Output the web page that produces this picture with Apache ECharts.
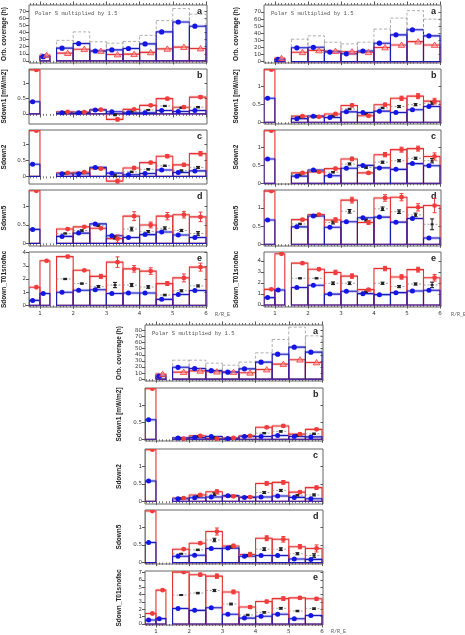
<!DOCTYPE html>
<html><head><meta charset="utf-8">
<script src="https://cdn.jsdelivr.net/npm/echarts@6/dist/echarts.min.js"></script>
<style>html,body{margin:0;padding:0;background:#fff}#c{width:465px;height:635px}</style>
</head><body><div id="c"></div>
<script>
// ---- bins (R/R_E) ----
const binLo = [0.67, 1.0, 1.5, 2.0, 2.5, 3.0, 3.5, 4.0, 4.5, 5.0, 5.5];
const binHi = [1.0, 1.3, 2.0, 2.5, 3.0, 3.5, 4.0, 4.5, 5.0, 5.5, 6.0];
const xTickValues = [1, 2, 3, 4, 5, 6];
const covTicks70 = [0, 10, 20, 30, 40, 50, 60, 70];
const covTicks80 = [0, 10, 20, 30, 40, 50, 60, 70, 80];
const sdTicks = [0, 0.5, 1];
const tTicks4 = [0, 1, 2, 3, 4];
const tTicks7 = [0, 1, 2, 3, 4, 5, 6, 7];

// ---- Panel 1 (top left) ----
const p1aBlue  = [null, 6, 18, 24.5, 14, 15.5, 17.5, 24, 41, 55, 49];
const p1aRed   = [null, 8, 11, 16.5, 14, 9, 9.5, 12, 17, 19.5, 17.5];
const p1aTotal = [null, 10, 29, 41, 27, 25, 27.5, 36, 57, 74, 66];
const p1bBlue = [0.40, null, 0.04, 0.04, 0.13, 0.07, 0.04, 0.04, 0.11, 0.08, 0.11];
const p1bRed  = [1.44, null, 0.07, 0.06, 0.14, -0.18, 0.15, 0.28, 0.50, 0.22, 0.55];
const p1bMean = [null, null, 0.05, 0.05, 0.13, -0.03, 0.08, 0.13, 0.26, 0.20, 0.22];
const p1bRedErr  = [0, null, 0.01, 0.01, 0.02, 0.05, 0.02, 0.03, 0.04, 0.04, 0.05];
const p1bMeanErr = [null, null, 0.01, 0.01, 0.01, 0.03, 0.01, 0.01, 0.02, 0.02, 0.02];
const p1cBlue = [0.38, null, 0.08, 0.08, 0.28, 0.10, 0.05, 0.09, 0.20, 0.12, 0.17];
const p1cRed  = [1.43, null, 0.11, 0.13, 0.24, -0.15, 0.26, 0.43, 0.63, 0.36, 0.71];
const p1cMean = [null, null, 0.09, 0.10, 0.26, 0.02, 0.14, 0.22, 0.33, 0.18, 0.28];
const p1cRedErr  = [0, null, 0.01, 0.02, 0.02, 0.06, 0.04, 0.04, 0.05, 0.05, 0.07];
const p1cMeanErr = [null, null, 0.01, 0.01, 0.01, 0.03, 0.02, 0.02, 0.02, 0.02, 0.03];
const p1dBlue = [0.38, null, 0.19, 0.28, 0.53, 0.21, 0.16, 0.24, 0.31, 0.23, 0.16];
const p1dRed  = [1.43, null, 0.39, 0.45, 0.41, 0.13, 0.74, 0.50, 0.74, 0.78, 0.72];
const p1dMean = [null, null, 0.27, 0.35, 0.48, 0.16, 0.39, 0.32, 0.41, 0.35, 0.27];
const p1dRedErr  = [0, null, 0.02, 0.02, 0.03, 0.10, 0.12, 0.08, 0.10, 0.09, 0.13];
const p1dMeanErr = [null, null, 0.01, 0.02, 0.02, 0.04, 0.05, 0.03, 0.04, 0.03, 0.05];
const p1eBlue = [0.37, 0.90, 0.99, 1.14, 1.18, 0.90, 0.93, 0.93, 0.45, 0.82, 1.12];
const p1eRed  = [1.37, 3.38, 3.70, 2.66, 2.20, 3.28, 2.77, 2.60, 1.65, 2.08, 2.90];
const p1eMean = [null, null, 2.00, 1.65, 1.42, 1.54, 1.54, 1.39, 0.78, 1.10, 1.47];
const p1eRedErr  = [0.03, 0.03, 0.10, 0.06, 0.15, 0.40, 0.25, 0.25, 0.15, 0.30, 0.30];
const p1eMeanErr = [null, null, 0.05, 0.04, 0.08, 0.20, 0.12, 0.10, 0.06, 0.08, 0.08];

// ---- Panel 2 (top right) ----
const p2aBlue  = [null, 3, 19.5, 20.2, 13.5, 11, 15, 26, 37.8, 45, 36.4];
const p2aRed   = [null, 4.7, 13.2, 15.8, 14.8, 14, 13.2, 20, 23.5, 28.2, 23.5];
const p2aTotal = [null, 6, 31.7, 36.4, 27.4, 25, 27.4, 46, 61.5, 72, 60];
const p2bBlue = [0.67, null, 0.10, 0.17, 0.13, 0.29, 0.27, 0.31, 0.27, 0.35, 0.44];
const p2bRed  = [1.47, null, 0.17, 0.15, 0.23, 0.47, 0.18, 0.49, 0.67, 0.73, 0.59];
const p2bMean = [null, null, 0.14, 0.16, 0.18, 0.37, 0.23, 0.40, 0.44, 0.49, 0.53];
const p2bRedErr  = [0, null, 0.02, 0.02, 0.02, 0.04, 0.03, 0.04, 0.06, 0.07, 0.08];
const p2bMeanErr = [null, null, 0.01, 0.01, 0.01, 0.02, 0.01, 0.02, 0.03, 0.03, 0.04];
const p2cBlue = [0.68, null, 0.20, 0.37, 0.21, 0.42, 0.50, 0.43, 0.39, 0.55, 0.49];
const p2cRed  = [1.47, null, 0.29, 0.32, 0.41, 0.68, 0.29, 0.80, 0.94, 0.97, 0.75];
const p2cMean = [null, null, 0.24, 0.34, 0.31, 0.54, 0.44, 0.59, 0.63, 0.70, 0.63];
const p2cRedErr  = [0, null, 0.02, 0.02, 0.04, 0.05, 0.03, 0.06, 0.07, 0.07, 0.10];
const p2cMeanErr = [null, null, 0.01, 0.01, 0.02, 0.03, 0.02, 0.03, 0.03, 0.03, 0.06];
const p2dBlue = [0.67, null, 0.48, 0.78, 0.47, 0.62, 0.73, 0.75, 0.61, 0.71, 0.17];
const p2dRed  = [1.47, null, 0.68, 0.82, 0.67, 1.22, 0.60, 1.28, 1.30, 1.02, 1.07];
const p2dMean = [null, null, 0.56, 0.80, 0.60, 0.91, 0.67, 0.98, 0.90, 0.81, 0.55];
const p2dRedErr  = [0, null, 0.03, 0.03, 0.06, 0.08, 0.05, 0.09, 0.10, 0.10, 0.20];
const p2dMeanErr = [null, null, 0.02, 0.02, 0.04, 0.05, 0.03, 0.05, 0.05, 0.05, 0.15];
const p2eBlue = [0.67, 1.36, 1.58, 1.79, 0.99, 1.24, 1.03, 0.94, 1.12, 1.27, 1.33];
const p2eRed  = [1.42, 4.64, 3.79, 3.24, 2.95, 2.62, 1.39, 3.30, 2.54, 3.20, 2.47];
const p2eMean = [null, null, 2.42, 2.42, 1.97, 1.97, 1.20, 1.97, 1.67, 1.90, 1.82];
const p2eRedErr  = [0.04, 0.05, 0.08, 0.08, 0.20, 0.20, 0.10, 0.20, 0.20, 0.22, 0.30];
const p2eMeanErr = [null, null, 0.04, 0.04, 0.12, 0.12, 0.05, 0.10, 0.10, 0.10, 0.25];

// ---- Panel 3 (bottom centre) ----
const p3aBlue  = [null, 5, 19.5, 17.5, 14, 11.5, 17, 28, 41, 52.6, 44.4];
const p3aRed   = [null, 8.2, 11.5, 13.7, 12.3, 11.5, 10.5, 15.9, 24.7, 32, 27.4];
const p3aTotal = [null, 9.9, 31.2, 31.2, 26.3, 23, 28, 43.3, 65.2, 85.5, 71.2];
const p3bBlue = [0.57, null, 0.04, 0.05, 0.08, 0.02, 0.08, 0.08, 0.11, 0.08, 0.07];
const p3bRed  = [1.48, null, 0.02, 0.10, 0.02, 0.04, 0.10, 0.35, 0.39, 0.15, 0.29];
const p3bMean = [null, null, 0.03, 0.08, 0.05, 0.03, 0.09, 0.18, 0.23, 0.12, 0.16];
const p3bRedErr  = [0, null, 0.01, 0.02, 0.03, 0.02, 0.02, 0.03, 0.03, 0.03, 0.03];
const p3bMeanErr = [null, null, 0.01, 0.01, 0.01, 0.01, 0.01, 0.02, 0.02, 0.02, 0.02];
const p3cBlue = [0.58, null, 0.07, 0.10, 0.12, 0.16, 0.11, 0.12, 0.15, 0.11, 0.07];
const p3cRed  = [1.48, null, 0.09, 0.18, 0.27, 0.14, 0.12, 0.51, 0.54, 0.26, 0.39];
const p3cMean = [null, null, 0.08, 0.14, 0.20, 0.15, 0.12, 0.25, 0.31, 0.17, 0.18];
const p3cRedErr  = [0, null, 0.01, 0.02, 0.06, 0.03, 0.02, 0.05, 0.05, 0.04, 0.05];
const p3cMeanErr = [null, null, 0.01, 0.01, 0.04, 0.02, 0.01, 0.03, 0.03, 0.02, 0.03];
const p3dBlue = [0.57, null, 0.18, 0.21, 0.40, 0.41, 0.18, 0.20, 0.20, 0.10, 0.09];
const p3dRed  = [1.46, null, 0.38, 0.55, 0.88, 0.47, 0.23, 0.69, 0.66, 0.45, 0.40];
const p3dMean = [null, null, 0.25, 0.36, 0.64, 0.44, 0.20, 0.38, 0.38, 0.25, 0.20];
const p3dRedErr  = [0, null, 0.02, 0.03, 0.10, 0.05, 0.06, 0.07, 0.08, 0.06, 0.10];
const p3dMeanErr = [null, null, 0.01, 0.02, 0.05, 0.03, 0.03, 0.04, 0.04, 0.03, 0.05];
const p3eBlue = [0.54, 0.72, 2.10, 1.85, 2.20, 1.32, 0.80, 1.05, 1.33, 0.70, 1.15];
const p3eRed  = [1.42, 4.60, 7.05, 6.70, 6.50, 4.35, 2.30, 3.05, 3.45, 3.55, 3.42];
const p3eMean = [null, null, 3.93, 4.20, 4.55, 2.71, 1.22, 1.58, 2.13, 1.76, 2.08];
const p3eRedErr  = [0.05, 0.05, 0.10, 0.20, 0.30, 0.25, 0.20, 0.20, 0.25, 0.20, 0.20];
const p3eMeanErr = [null, null, 0.05, 0.10, 0.15, 0.12, 0.10, 0.10, 0.12, 0.10, 0.10];

const yNames = ['Orb. coverage (h)', 'Sdown1 [mW/m2]', 'Sdown2', 'Sdown5', 'Sdown_T01snofac'];
const letters = ['a', 'b', 'c', 'd', 'e'];

// ---- layout ----
const panels = [
  { left: 28, width: 179, nameGap: 21, rows: [[5,58],[69,55],[130,54],[190,56],[252,55]],
    yRange: [[-3,79],[-0.33,1.47],[-0.24,1.45],[-0.07,1.45],[-0.13,4.05]],
    subs: [
      {kind:'a', blue:p1aBlue, red:p1aRed, total:p1aTotal, ticks:covTicks70},
      {kind:'s', blue:p1bBlue, red:p1bRed, mean:p1bMean, rErr:p1bRedErr, mErr:p1bMeanErr, ticks:sdTicks},
      {kind:'s', blue:p1cBlue, red:p1cRed, mean:p1cMean, rErr:p1cRedErr, mErr:p1cMeanErr, ticks:sdTicks},
      {kind:'s', blue:p1dBlue, red:p1dRed, mean:p1dMean, rErr:p1dRedErr, mErr:p1dMeanErr, ticks:sdTicks},
      {kind:'s', blue:p1eBlue, red:p1eRed, mean:p1eMean, rErr:p1eRedErr, mErr:p1eMeanErr, ticks:tTicks4}
    ], rre: [215, 315] },
  { left: 264, width: 177, nameGap: 24, rows: [[5,58],[69,55],[130,54],[190,56],[252,55]],
    yRange: [[-2,80],[-0.05,1.49],[-0.02,1.49],[-0.05,1.5],[-0.18,4.8]],
    subs: [
      {kind:'a', blue:p2aBlue, red:p2aRed, total:p2aTotal, ticks:covTicks70},
      {kind:'s', blue:p2bBlue, red:p2bRed, mean:p2bMean, rErr:p2bRedErr, mErr:p2bMeanErr, ticks:sdTicks},
      {kind:'s', blue:p2cBlue, red:p2cRed, mean:p2cMean, rErr:p2cRedErr, mErr:p2cMeanErr, ticks:sdTicks},
      {kind:'s', blue:p2dBlue, red:p2dRed, mean:p2dMean, rErr:p2dRedErr, mErr:p2dMeanErr, ticks:sdTicks},
      {kind:'s', blue:p2eBlue, red:p2eRed, mean:p2eMean, rErr:p2eRedErr, mErr:p2eMeanErr, ticks:tTicks4}
    ], rre: [451, 315] },
  { left: 145, width: 178, nameGap: 22, rows: [[325,56],[388,53],[449,55],[510,54],[571,54]],
    yRange: [[-3,89],[-0.05,1.5],[-0.08,1.5],[-0.04,1.49],[-0.14,7.2]],
    subs: [
      {kind:'a', blue:p3aBlue, red:p3aRed, total:p3aTotal, ticks:covTicks80},
      {kind:'s', blue:p3bBlue, red:p3bRed, mean:p3bMean, rErr:p3bRedErr, mErr:p3bMeanErr, ticks:sdTicks},
      {kind:'s', blue:p3cBlue, red:p3cRed, mean:p3cMean, rErr:p3cRedErr, mErr:p3cMeanErr, ticks:sdTicks},
      {kind:'s', blue:p3dBlue, red:p3dRed, mean:p3dMean, rErr:p3dRedErr, mErr:p3dMeanErr, ticks:sdTicks},
      {kind:'s', blue:p3eBlue, red:p3eRed, mean:p3eMean, rErr:p3eRedErr, mErr:p3eMeanErr, ticks:tTicks7}
    ], rre: [331, 632] }
];

const XMIN = 0.67, XMAX = 6.03;
const minorTicks = [];
for (let k = 7; k <= 60; k++) minorTicks.push(k / 10);

const BLUE = '#1c1cb4', BLUEDOT = '#1414e6', RED = '#e23232', REDM = '#f03c3c', GRAY = '#9a9a9a';

function makeRender(sub) {
  return function (params, api) {
    const i = params.dataIndex;
    const lo = api.value(0), hi = api.value(1), w = hi - lo;
    const ch = [];
    const P = (x, y) => api.coord([x, y]);
    const box = (v, style) => {
      const a = P(lo, 0), b = P(hi, v);
      ch.push({ type: 'rect', shape: { x: a[0], y: Math.min(a[1], b[1]), width: b[0] - a[0], height: Math.abs(b[1] - a[1]) }, style: style });
    };
    const band = (v, fill) => {
      const a = P(lo, v), b = P(hi, v);
      ch.push({ type: 'rect', shape: { x: a[0], y: a[1] - 1.5, width: b[0] - a[0], height: 3 }, style: { fill: fill } });
    };
    const errbar = (x, v, e, color) => {
      const t = P(x, v + e), b = P(x, v - e);
      ch.push({ type: 'line', shape: { x1: t[0], y1: t[1], x2: b[0], y2: b[1] }, style: { stroke: color, lineWidth: 1 } });
      ch.push({ type: 'line', shape: { x1: t[0] - 2, y1: t[1], x2: t[0] + 2, y2: t[1] }, style: { stroke: color, lineWidth: 1 } });
      ch.push({ type: 'line', shape: { x1: b[0] - 2, y1: b[1], x2: b[0] + 2, y2: b[1] }, style: { stroke: color, lineWidth: 1 } });
    };
    const blue = sub.blue[i], red = sub.red[i];
    if (sub.kind === 'a') {
      if (sub.total[i] != null) box(sub.total[i], { fill: 'none', stroke: GRAY, lineWidth: 0.8, lineDash: [3, 2] });
      if (red != null) { band(red, 'rgba(255,110,110,0.3)'); box(red, { fill: 'none', stroke: RED, lineWidth: 1.1 }); }
      if (blue != null) { band(blue, 'rgba(90,90,255,0.35)'); box(blue, { fill: 'none', stroke: BLUE, lineWidth: 1.1 }); }
      if (blue != null) { const c = P(lo + 0.33 * w, blue); ch.push({ type: 'circle', shape: { cx: c[0], cy: c[1], r: 2.6 }, style: { fill: BLUEDOT } }); }
      if (red != null) {
        const c = P(lo + 0.67 * w, red);
        ch.push({ type: 'polygon', shape: { points: [[c[0], c[1] - 3], [c[0] - 3.3, c[1] + 2.4], [c[0] + 3.3, c[1] + 2.4]] }, style: { fill: 'rgba(255,150,150,0.6)', stroke: REDM, lineWidth: 0.8 } });
      }
    } else {
      if (red != null) { band(red, 'rgba(255,110,110,0.3)'); box(red, { fill: 'none', stroke: RED, lineWidth: 1.1 }); }
      if (blue != null) { band(blue, 'rgba(90,90,255,0.35)'); box(blue, { fill: 'none', stroke: BLUE, lineWidth: 1.1 }); }
      const mean = sub.mean[i];
      if (mean != null) {
        const a = P(lo, mean), b = P(hi, mean);
        ch.push({ type: 'line', shape: { x1: a[0], y1: a[1], x2: b[0], y2: b[1] }, style: { stroke: '#8c8c8c', lineWidth: 0.8, lineDash: [2, 2] } });
        errbar(lo + 0.52 * w, mean, sub.mErr[i], '#111');
        const m = P(lo + 0.52 * w, mean);
        ch.push({ type: 'rect', shape: { x: m[0] - 1.5, y: m[1] - 1, width: 3, height: 2 }, style: { fill: '#222' } });
      }
      if (blue != null) { const c = P(lo + 0.33 * w, blue); ch.push({ type: 'circle', shape: { cx: c[0], cy: c[1], r: 2.5 }, style: { fill: BLUEDOT } }); }
      if (red != null) {
        if (sub.rErr[i]) errbar(lo + 0.67 * w, red, sub.rErr[i], REDM);
        const c = P(lo + 0.67 * w, red);
        ch.push({ type: 'circle', shape: { cx: c[0], cy: c[1], r: 2.4 }, style: { fill: REDM } });
      }
    }
    return { type: 'group', children: ch };
  };
}

const option = { animation: false, backgroundColor: '#fff', grid: [], xAxis: [], yAxis: [], series: [], graphic: [] };
const tickColor = '#555';
const fmt = v => String(v);

panels.forEach((pn, pi) => {
  pn.subs.forEach((sub, si) => {
    const gi = option.grid.length;
    const [top, h] = pn.rows[si];
    option.grid.push({ left: pn.left, top: top, width: pn.width, height: h, show: true, borderColor: '#666', borderWidth: 1, backgroundColor: 'transparent' });
    const isE = si === 4;
    const xi = option.xAxis.length;
    option.xAxis.push({ type: 'value', gridIndex: gi, min: XMIN, max: XMAX, position: 'bottom',
      axisLine: { show: false }, splitLine: { show: false },
      axisTick: { show: true, customValues: xTickValues, length: 3.5, lineStyle: { color: tickColor, width: 1 } },
      axisLabel: { show: isE, customValues: xTickValues, fontSize: 5.5, margin: 4, color: '#333', fontFamily: 'DejaVu Sans', formatter: fmt } });
    option.xAxis.push({ type: 'value', gridIndex: gi, min: XMIN, max: XMAX, position: 'bottom',
      axisLine: { show: false }, splitLine: { show: false },
      axisTick: { show: true, customValues: minorTicks, length: 2, lineStyle: { color: tickColor, width: 0.8 } },
      axisLabel: { show: false } });
    if (si === 0) {
      option.xAxis.push({ type: 'value', gridIndex: gi, min: XMIN, max: XMAX, position: 'top',
        axisLine: { show: false }, splitLine: { show: false },
        axisTick: { show: true, customValues: xTickValues, length: 3.5, lineStyle: { color: tickColor, width: 1 } },
        axisLabel: { show: false } });
      option.xAxis.push({ type: 'value', gridIndex: gi, min: XMIN, max: XMAX, position: 'top',
        axisLine: { show: false }, splitLine: { show: false },
        axisTick: { show: true, customValues: minorTicks, length: 2, lineStyle: { color: tickColor, width: 0.8 } },
        axisLabel: { show: false } });
    }
    const yi = option.yAxis.length;
    const [ymin, ymax] = pn.yRange[si];
    option.yAxis.push({ type: 'value', gridIndex: gi, min: ymin, max: ymax, position: 'left',
      axisLine: { show: false }, splitLine: { show: false },
      axisTick: { show: true, customValues: sub.ticks, length: 3, lineStyle: { color: tickColor } },
      axisLabel: { customValues: sub.ticks, fontSize: 5.5, margin: 3, color: '#333', fontFamily: 'DejaVu Sans', formatter: fmt },
      name: yNames[si], nameLocation: 'middle', nameGap: pn.nameGap, nameRotate: 90,
      nameTextStyle: { fontSize: 6.5, fontWeight: 'bold', color: '#222', fontFamily: 'Liberation Sans' } });
    option.yAxis.push({ type: 'value', gridIndex: gi, min: ymin, max: ymax, position: 'right',
      axisLine: { show: false }, splitLine: { show: false },
      axisTick: { show: true, inside: true, customValues: sub.ticks, length: 2.5, lineStyle: { color: tickColor } },
      axisLabel: { show: false } });
    option.series.push({ type: 'custom', xAxisIndex: xi, yAxisIndex: yi, clip: true,
      data: binLo.map((lo, k) => [lo, binHi[k]]),
      encode: { x: [0, 1], y: [] },
      renderItem: makeRender(sub) });
    option.graphic.push({ type: 'text', left: pn.left + pn.width - 10, top: top + 2,
      style: { text: letters[si], fontSize: 9, fontWeight: 'bold', fill: '#222', fontFamily: 'Liberation Sans' } });
    if (si === 0) {
      option.graphic.push({ type: 'text', left: pn.left + 7, top: top + 6,
        style: { text: 'Polar S multiplied by 1.5', fontSize: 5.5, fill: '#555', fontFamily: 'Liberation Mono' } });
    }
  });
  option.graphic.push({ type: 'text', left: pn.rre[0], top: pn.rre[1] - 3,
    style: { text: 'R/R_E', fontSize: 5, fill: '#555', fontFamily: 'Liberation Mono' } });
});

const chart = echarts.init(document.getElementById('c'), null, { renderer: 'canvas' });
chart.setOption(option);
</script>
</body></html>
